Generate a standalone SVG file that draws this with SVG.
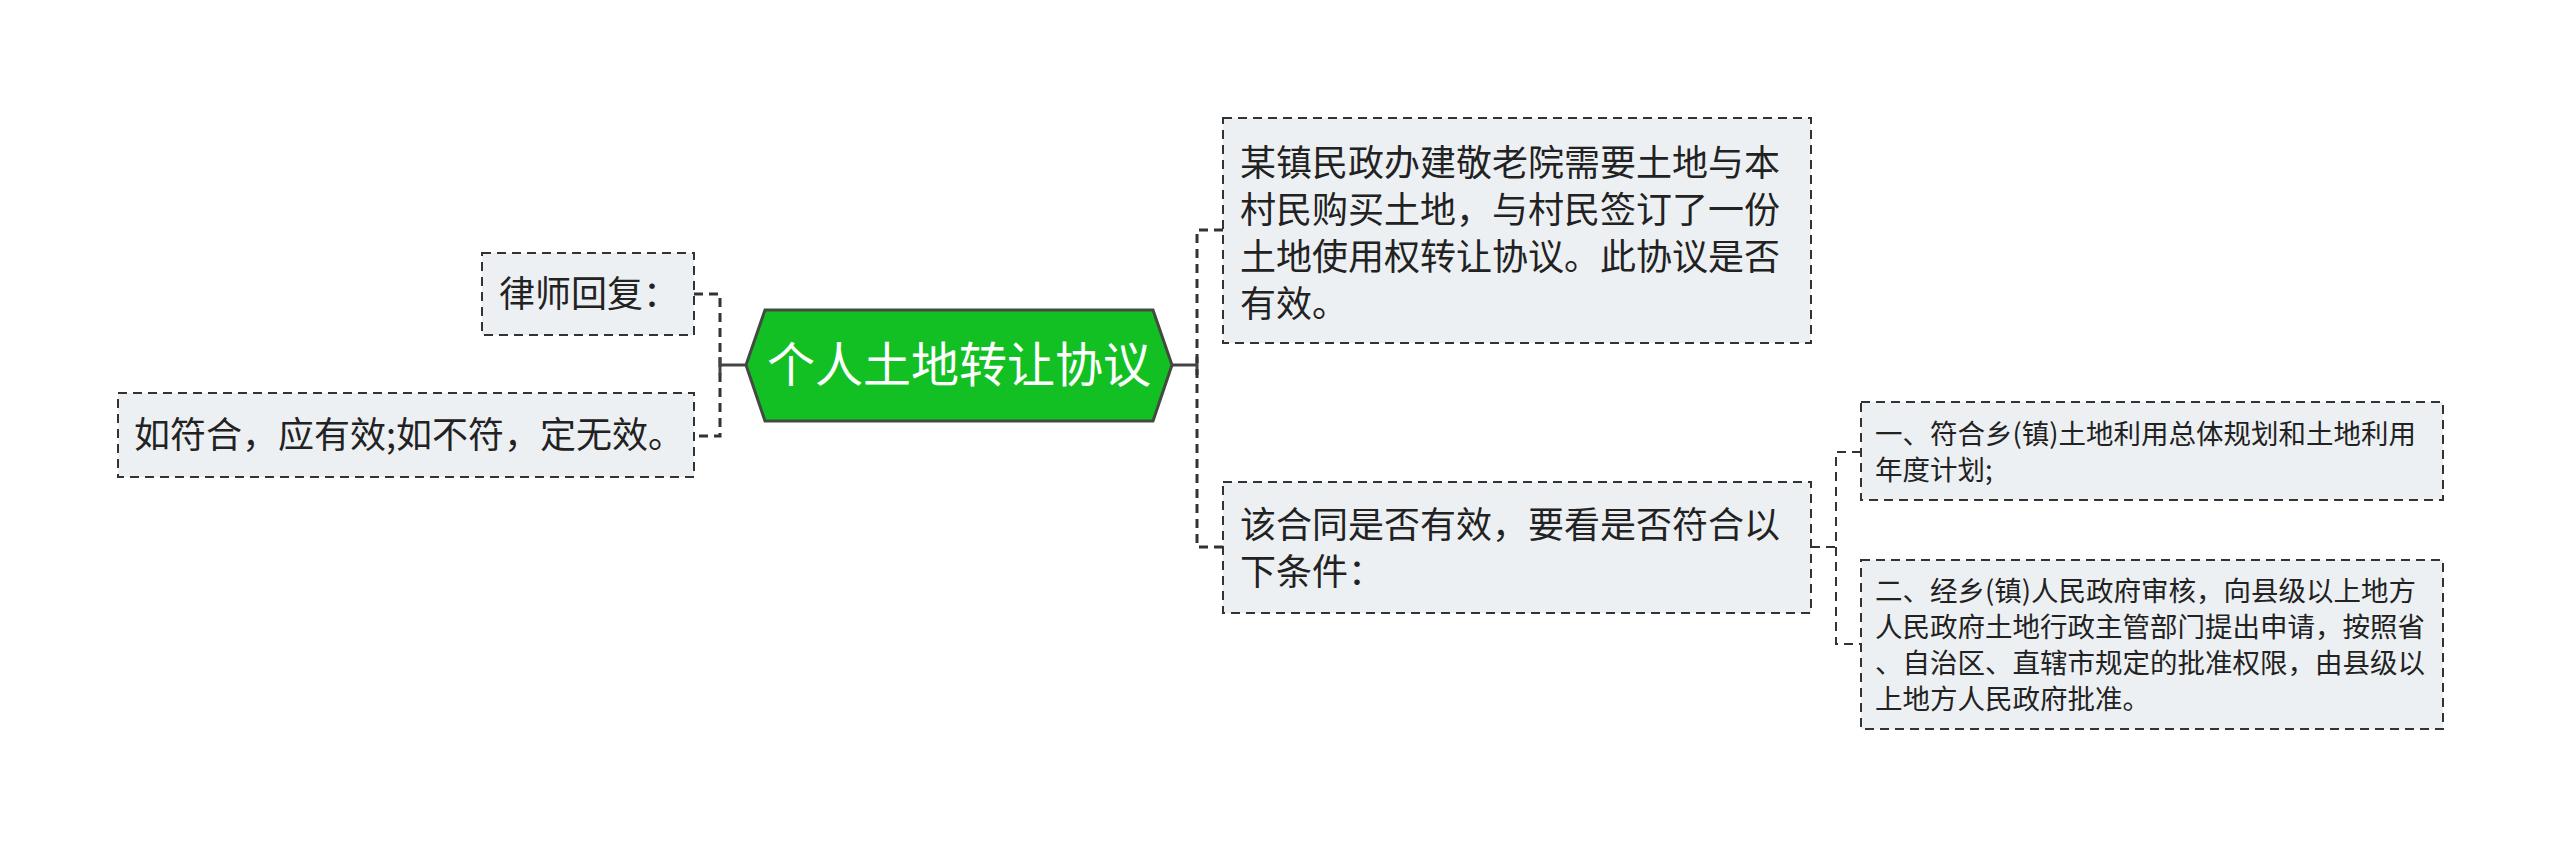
<svg xmlns="http://www.w3.org/2000/svg" width="2560" height="848" viewBox="0 0 2560 848">
<style>
.box{fill:#edf0f3;stroke:#333;stroke-width:2;stroke-dasharray:9,6}
.t{font-family:"Noto Sans CJK SC","Noto Sans",sans-serif;fill:#222}
.t35{font-size:36px}
.t27{font-size:27.5px}
.conn{fill:none;stroke:#333;stroke-width:3;stroke-dasharray:9,6}
.conn2{fill:none;stroke:#333;stroke-width:2;stroke-dasharray:9,6}
.solid{fill:none;stroke:#444;stroke-width:3}
</style>
<rect width="2560" height="848" fill="#ffffff"/>
<g id="connectors">
<path class="conn" d="M694,294 H720 V436 H694"/>
<path class="solid" d="M720,365 H746 M720,357 V375"/>
<path class="solid" d="M1172,365 H1197 M1197,357 V375"/>
<path class="conn" d="M1223,230 H1197 V547 H1223"/>
<path class="conn2" d="M1811,547 H1836"/>
<path class="conn2" d="M1861,452 H1836 V644 H1861"/>
</g>
<g id="root">
<polygon points="746,365 765,310 1153,310 1172,365 1153,421 765,421" fill="#13c024" stroke="#424a42" stroke-width="3"/>
<text x="959" y="382" text-anchor="middle" font-family="Noto Sans CJK SC, Noto Sans, sans-serif" font-size="48" fill="#ffffff">个人土地转让协议</text>
</g>
<g id="n-lawyer">
<rect class="box" x="482" y="253" width="212" height="82"/>
<text class="t t35" x="499" y="307">律师回复：</text>
</g>
<g id="n-answer">
<rect class="box" x="118" y="393" width="576" height="84"/>
<text class="t t35" x="134" y="448">如符合，应有效;如不符，定无效。</text>
</g>
<g id="n-case">
<rect class="box" x="1223" y="118" width="588" height="225"/>
<text class="t t35" x="1240" y="176">某镇民政办建敬老院需要土地与本</text>
<text class="t t35" x="1240" y="223">村民购买土地，与村民签订了一份</text>
<text class="t t35" x="1240" y="270">土地使用权转让协议。此协议是否</text>
<text class="t t35" x="1240" y="317">有效。</text>
</g>
<g id="n-valid">
<rect class="box" x="1223" y="482" width="588" height="131"/>
<text class="t t35" x="1240" y="538">该合同是否有效，要看是否符合以</text>
<text class="t t35" x="1240" y="585">下条件：</text>
</g>
<g id="n-cond1">
<rect class="box" x="1861" y="402" width="582" height="98"/>
<text class="t t27" x="1875" y="444">一、符合乡(镇)土地利用总体规划和土地利用</text>
<text class="t t27" x="1875" y="480">年度计划;</text>
</g>
<g id="n-cond2">
<rect class="box" x="1861" y="560" width="582" height="169"/>
<text class="t t27" x="1875" y="601">二、经乡(镇)人民政府审核，向县级以上地方</text>
<text class="t t27" x="1875" y="637">人民政府土地行政主管部门提出申请，按照省</text>
<text class="t t27" x="1875" y="673">、自治区、直辖市规定的批准权限，由县级以</text>
<text class="t t27" x="1875" y="709">上地方人民政府批准。</text>
</g>
</svg>
